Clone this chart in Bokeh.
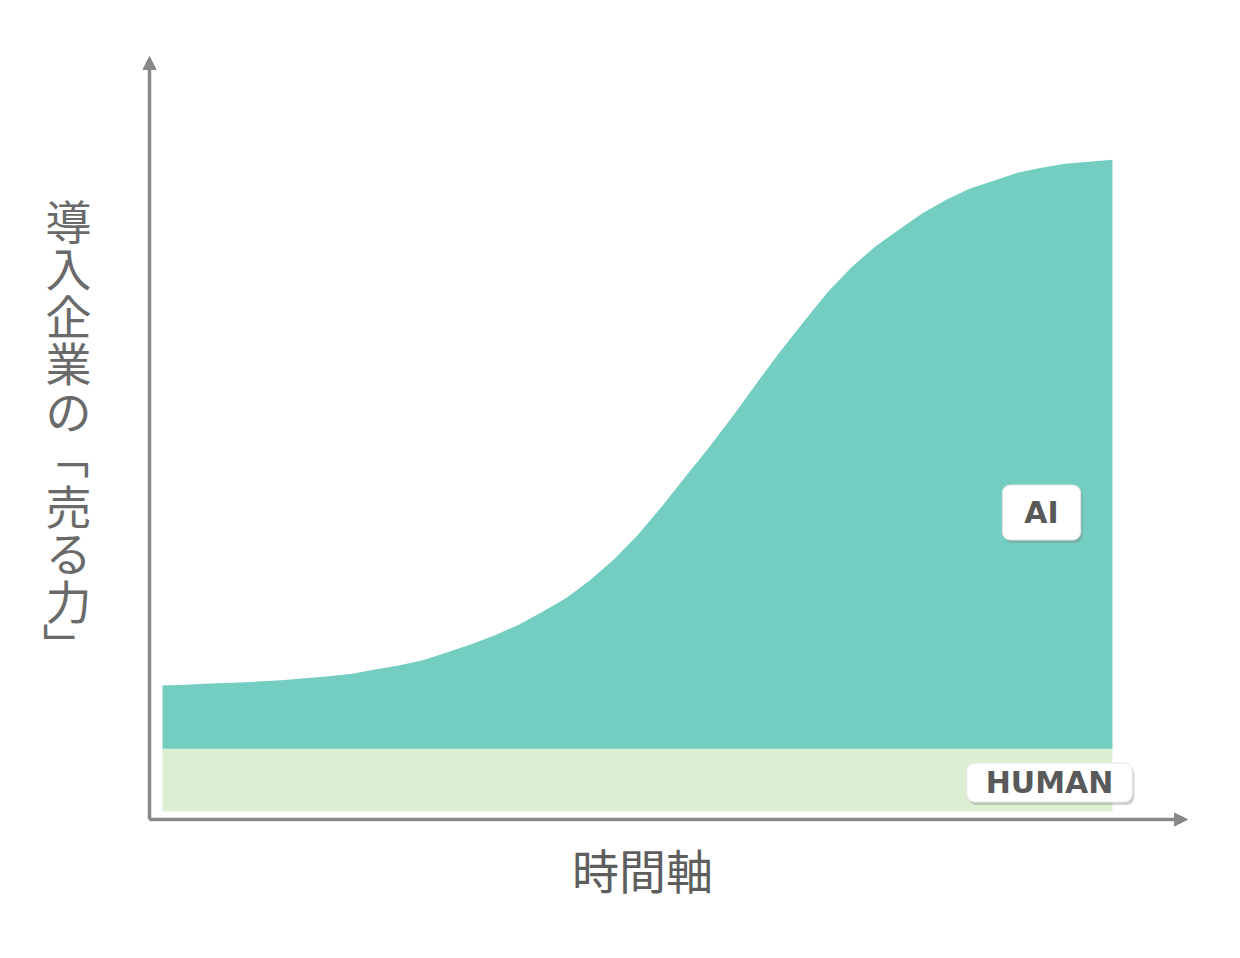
from bokeh.plotting import figure
from bokeh.models import Range1d, Arrow, NormalHead, Label
from bokeh.embed import file_html
from bokeh.resources import INLINE
import math

# ---- data ----
time_idx = [0, 2.5, 5, 7.5, 10, 12.5, 15, 17.5, 20, 22.5, 25, 27.5, 30, 32.5, 35, 37.5,
            40, 42.5, 45, 47.5, 50, 52.5, 55, 57.5, 60, 62.5, 65, 67.5, 70, 72.5, 75,
            77.5, 80, 82.5, 85, 87.5, 90, 92.5, 95, 97.5, 100]
ai_top = [19.3, 19.4, 19.6, 19.7, 19.9, 20.1, 20.4, 20.7, 21.1, 21.8, 22.4, 23.2, 24.4,
          25.6, 27.0, 28.6, 30.6, 32.7, 35.4, 38.6, 42.3, 46.6, 51.2, 55.7, 60.5, 65.5,
          70.4, 75.0, 79.5, 83.3, 86.5, 89.1, 91.6, 93.7, 95.4, 96.6, 97.8, 98.6, 99.2,
          99.5, 99.8]
human_level = [9.6] * len(time_idx)
y_label_chars = ["導", "入", "企", "業", "の", "「", "売", "る", "力", "」"]
x_label = "時間軸"
series_names = ["AI", "HUMAN"]

AI_COLOR = "#74CDC1"
HUMAN_COLOR = "#DCEFD3"
AXIS_COLOR = "#888888"
TEXT_COLOR = "#6a6a6a"

W, H = 1224, 940
# pixel mapping (screenshot px): x: 162 + 9.5*t ; y: 811 - 6.53*v
XS, X0 = 9.5, 162.0
YS, Y0 = 6.53, 811.0
def px2x(px):
    return (px - X0) / XS
def px2y(py):
    return (Y0 - py) / YS

p = figure(width=W, height=H, output_backend="svg", toolbar_location=None,
           x_range=Range1d(px2x(0), px2x(W)), y_range=Range1d(px2y(H), px2y(0)),
           min_border=0, min_border_left=0, min_border_right=0, min_border_top=0, min_border_bottom=0)
p.axis.visible = False
p.grid.visible = False
p.outline_line_color = None
p.background_fill_color = "white"
p.border_fill_color = "white"

zeros = [0] * len(time_idx)
p.varea(x=time_idx, y1=zeros, y2=human_level, fill_color=HUMAN_COLOR)
p.varea(x=time_idx, y1=human_level, y2=ai_top, fill_color=AI_COLOR)

# axes with arrows
ax_x = px2x(149)
ax_y = px2y(819)
p.add_layout(Arrow(end=NormalHead(size=13, fill_color=AXIS_COLOR, line_color=AXIS_COLOR),
                   x_start=ax_x, y_start=ax_y, x_end=ax_x, y_end=px2y(56),
                   line_color=AXIS_COLOR, line_width=3.5))
p.add_layout(Arrow(end=NormalHead(size=13, fill_color=AXIS_COLOR, line_color=AXIS_COLOR),
                   x_start=ax_x, y_start=ax_y, x_end=px2x(1187), y_end=ax_y,
                   line_color=AXIS_COLOR, line_width=3.5))

# vertical y label
for i, ch in enumerate(y_label_chars):
    ang = -math.pi / 2 if ch in "「」" else 0
    p.add_layout(Label(x=px2x(68), y=px2y(218 + 47.5 * i), text=ch,
                       text_font="Noto Sans CJK JP", text_font_size="46px",
                       text_color=TEXT_COLOR, text_align="center", text_baseline="middle",
                       angle=ang))

p.add_layout(Label(x=px2x(642), y=px2y(868), text=x_label,
                   text_font="Noto Sans CJK JP", text_font_size="47px",
                   text_color="#5e5e5e", text_align="center", text_baseline="middle"))

# series tags (white rounded box with a soft shadow)
def tag(text, cx, cy, pad):
    p.add_layout(Label(x=px2x(cx), y=px2y(cy), x_offset=2, y_offset=-3, text=text,
                       text_font="DejaVu Sans", text_font_style="bold", text_font_size="30px",
                       text_color="#9a9a9a", text_align="center", text_baseline="middle",
                       background_fill_color="#7a7a7a", background_fill_alpha=0.35,
                       border_radius=8, padding=pad))
    p.add_layout(Label(x=px2x(cx), y=px2y(cy), text=text,
                       text_font="DejaVu Sans", text_font_style="bold", text_font_size="30px",
                       text_color="#595959", text_align="center", text_baseline="middle",
                       background_fill_color="white", background_fill_alpha=1.0,
                       border_line_color="#e4e4e4",
                       border_radius=8, padding=pad))

tag(series_names[0], 1041, 512, (22, 10))
tag(series_names[1], 1049, 782, (19, 2))

open("out.html", "w").write(file_html(p, INLINE))
